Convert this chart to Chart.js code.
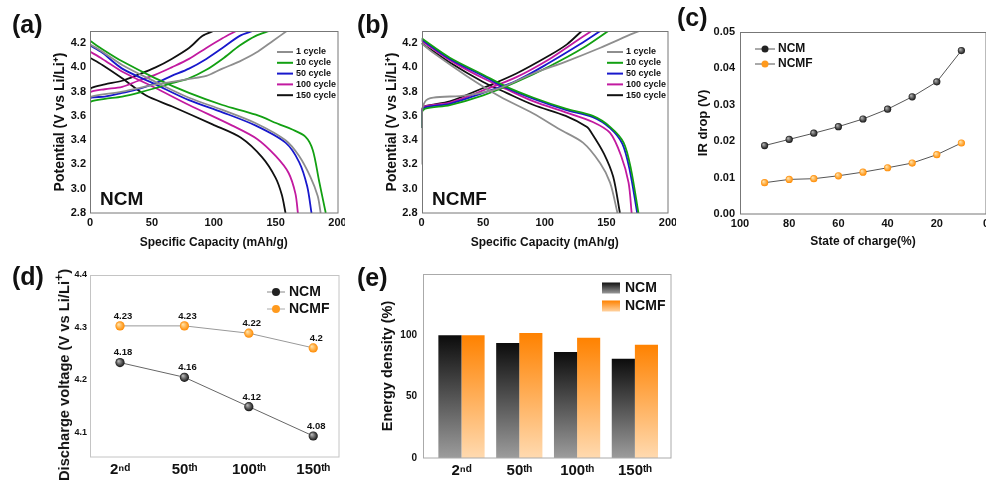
<!DOCTYPE html>
<html>
<head>
<meta charset="utf-8">
<title>NCM vs NCMF</title>
<script src="https://cdn.jsdelivr.net/npm/chart.js@4.4.1/dist/chart.umd.min.js"></script>
<style>
  body { margin: 0; background: #fff; overflow: hidden; }
  #fig { position: relative; width: 986px; height: 480px; overflow: hidden;
         font-family: "Liberation Sans", Arial, sans-serif; color: #111; }
  #fig canvas { position: absolute; }
  .tag { position: absolute; font-size: 25px; font-weight: bold; line-height: 1; }
  .ytitle { position: absolute; font-size: 14.7px; font-weight: bold; white-space: nowrap;
            transform: translate(-50%, -50%) rotate(-90deg); }
</style>
</head>
<body>
<div id="fig">
  <canvas id="chartA" width="345" height="255" style="left:0;top:0"></canvas>
  <canvas id="chartB" width="340" height="255" style="left:336px;top:0"></canvas>
  <canvas id="chartC" width="310" height="255" style="left:680px;top:0"></canvas>
  <canvas id="chartD" width="345" height="230" style="left:0;top:250px"></canvas>
  <canvas id="chartE" width="326" height="230" style="left:360px;top:250px"></canvas>
  <div class="tag" style="left:12px;top:12px">(a)</div>
  <div class="tag" style="left:357px;top:12px">(b)</div>
  <div class="tag" style="left:677px;top:5px">(c)</div>
  <div class="tag" style="left:12px;top:264px">(d)</div>
  <div class="tag" style="left:357px;top:265px">(e)</div>
  <div class="ytitle" style="left:62px;top:375px">Discharge voltage (V vs Li/Li<sup>+</sup>)</div>
</div>
<script>
// ---------- data ----------
const cycleNames = ["1 cycle", "10 cycle", "50 cycle", "100 cycle", "150 cycle"];
const cycleColors = ["#8e8e8e", "#12a012", "#1818cc", "#c21aa0", "#111111"];

const capacityTicks = [0, 50, 100, 150, 200];
const potentialTicks = [2.8, 3.0, 3.2, 3.4, 3.6, 3.8, 4.0, 4.2];

// (a) NCM - one row per cycle
const ncmChargeCap = [
  [0, 0, 1, 26, 53, 66, 80, 94, 107, 121, 134, 148, 159],
  [0, 0, 1, 12, 26, 39, 53, 66, 80, 94, 107, 121, 134, 145],
  [0, 0, 1, 12, 26, 39, 53, 66, 80, 94, 107, 121, 131.7],
  [0, 0, 1, 12, 26, 39, 53, 66, 80, 94, 107, 118],
  [0, 0, 1, 12, 26, 39, 53, 66, 80, 91, 100]
];
const ncmChargeV = [
  [3.45, 3.74, 3.76, 3.80, 3.86, 3.88, 3.905, 3.93, 3.99, 4.05, 4.12, 4.22, 4.30],
  [3.55, 3.70, 3.72, 3.74, 3.76, 3.79, 3.83, 3.87, 3.91, 3.98, 4.07, 4.18, 4.26, 4.30],
  [3.55, 3.73, 3.75, 3.76, 3.79, 3.82, 3.87, 3.93, 3.99, 4.07, 4.16, 4.26, 4.30],
  [3.55, 3.78, 3.80, 3.82, 3.84, 3.89, 3.94, 4.00, 4.07, 4.16, 4.24, 4.30],
  [3.45, 3.80, 3.83, 3.86, 3.89, 3.94, 4.00, 4.07, 4.16, 4.26, 4.30]
];
const ncmDischargeCap = [
  [0, 10, 26, 53, 80, 107, 134, 158, 169, 178, 184, 186.4],
  [0, 10, 26, 53, 80, 107, 134, 153, 163, 174, 180, 185, 190.5],
  [0, 10, 26, 53, 80, 107, 134, 158, 169, 175.5, 179],
  [0, 10, 27, 53, 80, 115, 135, 150, 160.5, 166, 168],
  [0, 10, 26, 45, 66, 99, 122, 139, 150, 155, 158]
];
const ncmDischargeV = [
  [4.19, 4.13, 4.02, 3.88, 3.75, 3.65, 3.54, 3.40, 3.27, 3.10, 2.94, 2.80],
  [4.22, 4.15, 4.05, 3.91, 3.79, 3.69, 3.61, 3.53, 3.49, 3.43, 3.32, 3.07, 2.80],
  [4.18, 4.12, 3.99, 3.86, 3.73, 3.63, 3.52, 3.38, 3.22, 3.02, 2.80],
  [4.13, 4.07, 3.96, 3.83, 3.69, 3.52, 3.41, 3.27, 3.13, 2.96, 2.80],
  [4.08, 4.02, 3.91, 3.77, 3.68, 3.53, 3.42, 3.26, 3.09, 2.95, 2.80]
];

// (b) NCMF
const ncmfChargeCap = [
  [0, 0, 3, 9.6, 36.6, 63.6, 90.7, 117.7, 144.7, 171.8, 177],
  [0, 0, 3, 23, 50, 77, 104, 131, 151.5],
  [0, 0, 3, 23, 50, 77, 104, 128.5, 145],
  [0, 0, 3, 23, 50, 77, 104, 123, 138],
  [0, 0, 3, 23, 50, 77, 104, 118, 130]
];
const ncmfChargeV = [
  [3.20, 3.60, 3.72, 3.75, 3.77, 3.83, 3.95, 4.05, 4.16, 4.28, 4.30],
  [3.50, 3.62, 3.66, 3.69, 3.77, 3.88, 4.01, 4.16, 4.30],
  [3.50, 3.63, 3.67, 3.70, 3.79, 3.89, 4.04, 4.19, 4.30],
  [3.50, 3.64, 3.68, 3.71, 3.81, 3.92, 4.07, 4.20, 4.30],
  [3.50, 3.65, 3.68, 3.72, 3.83, 3.95, 4.10, 4.19, 4.30]
];
const ncmfDischargeCap = [
  [0, 9.6, 36.6, 63.6, 90.7, 112, 131, 145, 153, 159],
  [0, 23, 50, 69, 91, 117, 139, 153, 164, 170, 176],
  [0, 23, 50, 69, 91, 117, 139, 153, 163, 169, 175],
  [0, 23, 50, 69, 91, 117, 139, 153, 162, 168, 170.5],
  [0, 23, 50, 69, 91, 117, 134, 138, 148, 155.5, 161]
];
const ncmfDischargeV = [
  [4.20, 4.12, 3.93, 3.76, 3.62, 3.49, 3.38, 3.21, 3.05, 2.80],
  [4.24, 4.08, 3.94, 3.84, 3.75, 3.66, 3.60, 3.51, 3.38, 3.16, 2.80],
  [4.23, 4.07, 3.93, 3.83, 3.74, 3.65, 3.59, 3.50, 3.37, 3.15, 2.80],
  [4.22, 4.06, 3.91, 3.82, 3.72, 3.63, 3.55, 3.46, 3.27, 3.05, 2.80],
  [4.20, 4.04, 3.88, 3.79, 3.69, 3.60, 3.51, 3.46, 3.29, 3.10, 2.80]
];

// (c) IR drop
const socLevels = [90, 80, 70, 60, 50, 40, 30, 20, 10];
const socTicks = [100, 80, 60, 40, 20, 0];
const irTicks = [0, 0.01, 0.02, 0.03, 0.04, 0.05];
const ncmIR = [0.0188, 0.0205, 0.0222, 0.0240, 0.0261, 0.0288, 0.0322, 0.0363, 0.0449];
const ncmfIR = [0.0086, 0.0095, 0.0097, 0.0105, 0.0115, 0.0127, 0.0140, 0.0163, 0.0195];

// (d) discharge voltage, (e) energy density
const cycleLabels = ["2ⁿᵈ", "50ᵗʰ", "100ᵗʰ", "150ᵗʰ"];
const cycleIndex = [0, 1, 2, 3];
const voltTicks = [4.1, 4.2, 4.3, 4.4];
const ncmVolt = [4.233, 4.205, 4.149, 4.093];
const ncmfVolt = [4.303, 4.303, 4.289, 4.261];
const ncmVoltText = ["4.18", "4.16", "4.12", "4.08"];
const ncmfVoltText = ["4.23", "4.23", "4.22", "4.2"];
const energyTicks = [0, 50, 100];
const ncmEnergy = [100, 93.8, 86.4, 81];
const ncmfEnergy = [100, 101.9, 98.1, 92.4];

// ---------- helpers ----------
const FONT = '"Liberation Sans", Arial, sans-serif';
const INK = "#111";

function bold(size) { return { family: FONT, size: size, weight: "bold" }; }

// fixed axis box so the plot areas land where the figure has them
function fixBox(size) {
  return function (s) {
    if (s.isHorizontal()) s.height = size; else s.width = size;
    s.paddingLeft = s.paddingRight = s.paddingTop = s.paddingBottom = 0;
  };
}
function useTicks(list) {
  return function (s) { s.ticks = list.map(v => ({ value: v })); };
}

const frame = {
  id: "frame",
  afterDatasetsDraw(chart, args, o) {
    const a = chart.chartArea, ctx = chart.ctx;
    const l = Math.round(a.left) + 0.5, t = Math.round(a.top) + 0.5;
    ctx.save();
    ctx.strokeStyle = o.color || "#666";
    ctx.lineWidth = 1;
    ctx.strokeRect(l, t, Math.round(a.right) - l, Math.round(a.bottom) - t);
    ctx.restore();
  }
};

const key = {
  id: "key",
  afterDraw(chart, args, o) {
    if (o.x === undefined) return;
    const ctx = chart.ctx;
    ctx.save();
    ctx.font = o.font;
    ctx.textBaseline = "middle";
    ctx.textAlign = "left";
    let row = 0;
    chart.data.datasets.forEach(ds => {
      if (ds.noKey) return;
      const y = o.y + row * o.step;
      if (o.kind === "box") {
        const g = ctx.createLinearGradient(0, y - o.boxH / 2, 0, y + o.boxH / 2);
        g.addColorStop(0, ds.keyTop);
        g.addColorStop(1, ds.keyBottom);
        ctx.fillStyle = g;
        ctx.fillRect(o.x, y - o.boxH / 2, o.len, o.boxH);
      } else {
        ctx.strokeStyle = ds.keyLine || ds.borderColor;
        ctx.lineWidth = o.lineW;
        ctx.beginPath();
        ctx.moveTo(o.x, y);
        ctx.lineTo(o.x + o.len, y);
        ctx.stroke();
        if (o.kind === "dot") {
          ctx.fillStyle = ds.keyDot;
          ctx.beginPath();
          ctx.arc(o.x + o.len / 2, y, o.r, 0, Math.PI * 2);
          ctx.fill();
        }
      }
      ctx.fillStyle = INK;
      ctx.fillText(ds.label, o.x + o.len + o.gap, y);
      row++;
    });
    ctx.restore();
  }
};

const notes = {
  id: "notes",
  afterDraw(chart, args, o) {
    if (!o.text) return;
    const ctx = chart.ctx;
    ctx.save();
    ctx.font = o.font;
    ctx.fillStyle = INK;
    ctx.textBaseline = "middle";
    ctx.fillText(o.text, o.x, o.y);
    ctx.restore();
  }
};

const pointText = {
  id: "pointText",
  afterDatasetsDraw(chart, args, o) {
    const ctx = chart.ctx;
    ctx.save();
    ctx.font = o.font;
    ctx.fillStyle = INK;
    ctx.textAlign = "center";
    ctx.textBaseline = "bottom";
    chart.data.datasets.forEach((ds, i) => {
      if (!ds.valueText) return;
      chart.getDatasetMeta(i).data.forEach((pt, k) => {
        ctx.fillText(ds.valueText[k], pt.x + o.dx, pt.y + o.dy);
      });
    });
    ctx.restore();
  }
};

// shaded ball markers
function sphere(light, dark, r) {
  return function (c) {
    const ch = c.chart;
    if (c.type !== "data" || !ch.chartArea) return dark;
    const x = ch.scales.x.getPixelForValue(c.parsed.x);
    const y = ch.scales.y.getPixelForValue(c.parsed.y);
    const g = ch.ctx.createRadialGradient(x - r * 0.35, y - r * 0.35, 0.3, x, y, r);
    g.addColorStop(0, light);
    g.addColorStop(1, dark);
    return g;
  };
}

function curve(label, color, xs, ys, hideKey) {
  return {
    label: label,
    data: xs.map((x, k) => ({ x: x, y: ys[k] })),
    borderColor: color,
    borderWidth: 1.8,
    pointRadius: 0,
    tension: 0.3,
    noKey: hideKey
  };
}

function curveSets(chgCap, chgV, disCap, disV) {
  const sets = [];
  cycleNames.forEach((name, i) => {
    sets.push(curve(name, cycleColors[i], chgCap[i], chgV[i], false));
    sets.push(curve(name, cycleColors[i], disCap[i], disV[i], true));
  });
  return sets;
}

const base = {
  responsive: false,
  animation: false,
  events: []
};

function capacityChart(id, sets, yWidth, padRight, yTitlePad, legendX, note, noteX) {
  return new Chart(document.getElementById(id), {
    type: "line",
    data: { datasets: sets },
    options: Object.assign({}, base, {
      layout: { padding: { top: 31, right: padRight, left: 0, bottom: 0 } },
      scales: {
        x: {
          type: "linear", min: 0, max: 200,
          afterBuildTicks: useTicks(capacityTicks),
          afterFit: fixBox(42),
          grid: { display: false, drawTicks: false },
          border: { display: false },
          ticks: { font: bold(11), color: INK, padding: 3, maxRotation: 0 },
          title: { display: true, text: "Specific Capacity (mAh/g)", font: bold(12), color: INK,
                   padding: { top: 0, bottom: 4.8 } }
        },
        y: {
          min: 2.8, max: 4.3,
          afterBuildTicks: useTicks(potentialTicks),
          afterFit: fixBox(yWidth),
          grid: { display: false, drawTicks: false },
          border: { display: false },
          ticks: { font: bold(11), color: INK, padding: 4, callback: v => v.toFixed(1) },
          title: { display: true, text: "Potential (V vs Li/Li⁺)", font: bold(14), color: INK,
                   padding: { top: yTitlePad, bottom: 0 } }
        }
      },
      plugins: {
        legend: { display: false },
        tooltip: { enabled: false },
        frame: { color: "#777" },
        key: { x: legendX, y: 52, step: 10.8, len: 16, gap: 3, lineW: 2, font: "bold 9px " + FONT },
        notes: { text: note, x: noteX, y: 200, font: "bold 19px " + FONT }
      }
    }),
    plugins: [frame, key, notes]
  });
}

// (a) and (b)
capacityChart("chartA", curveSets(ncmChargeCap, ncmChargeV, ncmDischargeCap, ncmDischargeV),
  90, 7.5, 51.6, 277, "NCM", 100);
capacityChart("chartB", curveSets(ncmfChargeCap, ncmfChargeV, ncmfDischargeCap, ncmfDischargeV),
  85.5, 8, 47.6, 271, "NCMF", 96);

// (c) IR drop vs state of charge
new Chart(document.getElementById("chartC"), {
  type: "line",
  data: {
    labels: socLevels,
    datasets: [
      { label: "NCM", data: ncmIR, borderColor: "#555", borderWidth: 1, pointRadius: 3.6,
        pointBorderWidth: 0, pointBackgroundColor: sphere("#b0b0b0", "#111", 3.6),
        keyDot: "#222", keyLine: "#555" },
      { label: "NCMF", data: ncmfIR, borderColor: "#555", borderWidth: 1, pointRadius: 3.6,
        pointBorderWidth: 0, pointBackgroundColor: sphere("#ffe2a8", "#ff8a00", 3.6),
        keyDot: "#ff9a1e", keyLine: "#555" }
    ]
  },
  options: Object.assign({}, base, {
    layout: { padding: { top: 32, right: 2, left: 0, bottom: 0 } },
    scales: {
      x: {
        type: "linear", min: 0, max: 100, reverse: true, offset: false,
        afterBuildTicks: useTicks(socTicks),
        afterFit: fixBox(41),
        grid: { display: false, drawTicks: false },
        border: { display: false },
        ticks: { font: bold(11), color: INK, padding: 3, maxRotation: 0 },
        title: { display: true, text: "State of charge(%)", font: bold(12), color: INK,
                 padding: { top: 0, bottom: 6.1 } }
      },
      y: {
        min: 0, max: 0.05,
        afterBuildTicks: useTicks(irTicks),
        afterFit: fixBox(60),
        grid: { display: false, drawTicks: false },
        border: { display: false },
        ticks: { font: bold(11), color: INK, padding: 5, callback: v => v.toFixed(2) },
        title: { display: true, text: "IR drop (V)", font: bold(13), color: INK,
                 padding: { top: 15.2, bottom: 0 } }
      }
    },
    plugins: {
      legend: { display: false },
      tooltip: { enabled: false },
      frame: { color: "#777" },
      key: { x: 75, y: 49, step: 15, len: 20, gap: 3, lineW: 1, kind: "dot", r: 3.5,
             font: "bold 12px " + FONT }
    }
  }),
  plugins: [frame, key]
});

// (d) discharge voltage per cycle
new Chart(document.getElementById("chartD"), {
  type: "line",
  data: {
    labels: cycleIndex,
    datasets: [
      { label: "NCM", data: ncmVolt, valueText: ncmVoltText, borderColor: "#666", borderWidth: 1,
        pointRadius: 4.6, pointBorderWidth: 0, pointBackgroundColor: sphere("#b8b8b8", "#111", 4.6),
        keyDot: "#222", keyLine: "#888" },
      { label: "NCMF", data: ncmfVolt, valueText: ncmfVoltText, borderColor: "#999", borderWidth: 1,
        pointRadius: 4.6, pointBorderWidth: 0, pointBackgroundColor: sphere("#ffe2a8", "#ff8a00", 4.6),
        keyDot: "#ff9a1e", keyLine: "#aaa" }
    ]
  },
  options: Object.assign({}, base, {
    layout: { padding: { top: 25, right: 6, left: 0, bottom: 0 } },
    scales: {
      x: {
        type: "linear", min: -0.466, max: 3.40, offset: false,
        afterBuildTicks: useTicks(cycleIndex),
        afterFit: fixBox(23),
        grid: { display: false, drawTicks: false },
        border: { display: false },
        ticks: { font: bold(15), color: INK, padding: 4, maxRotation: 0, callback: v => cycleLabels[v] }
      },
      y: {
        min: 4.053, max: 4.4,
        afterBuildTicks: useTicks(voltTicks),
        afterFit: fixBox(90),
        grid: { display: false, drawTicks: false },
        border: { display: false },
        ticks: { font: bold(9), color: INK, padding: 3, callback: v => v.toFixed(1) }
      }
    },
    plugins: {
      legend: { display: false },
      tooltip: { enabled: false },
      frame: { color: "#c4c4c4" },
      key: { x: 267, y: 42, step: 17, len: 18, gap: 4, lineW: 1, kind: "dot", r: 4,
             font: "bold 14px " + FONT },
      pointText: { font: "bold 9.5px " + FONT, dx: 3, dy: -5 }
    }
  }),
  plugins: [frame, key, pointText]
});

// (e) energy density bars
function barShade(top, bottom) {
  return function (c) {
    const ch = c.chart;
    if (c.type !== "data" || !ch.chartArea) return top;
    const y = ch.scales.y;
    const g = ch.ctx.createLinearGradient(0, y.getPixelForValue(c.raw), 0, y.getPixelForValue(0));
    g.addColorStop(0, top);
    g.addColorStop(1, bottom);
    return g;
  };
}

new Chart(document.getElementById("chartE"), {
  type: "bar",
  data: {
    labels: cycleIndex,
    datasets: [
      { label: "NCM", data: ncmEnergy, backgroundColor: barShade("#0c0c0c", "#9c9c9c"),
        barPercentage: 1, categoryPercentage: 0.8, keyTop: "#111", keyBottom: "#9a9a9a" },
      { label: "NCMF", data: ncmfEnergy, backgroundColor: barShade("#ff8200", "#ffdab0"),
        barPercentage: 1, categoryPercentage: 0.8, keyTop: "#ff8200", keyBottom: "#ffd2a0" }
    ]
  },
  options: Object.assign({}, base, {
    layout: { padding: { top: 24, right: 15, left: 0, bottom: 0 } },
    scales: {
      x: {
        type: "linear", min: -0.666, max: 3.625, offset: false,
        afterBuildTicks: useTicks(cycleIndex),
        afterFit: fixBox(22),
        grid: { display: false, drawTicks: false },
        border: { display: false },
        ticks: { font: bold(15), color: INK, padding: 4, maxRotation: 0, callback: v => cycleLabels[v] }
      },
      y: {
        min: 0, max: 150,
        afterBuildTicks: useTicks(energyTicks),
        afterFit: fixBox(63),
        grid: { display: false, drawTicks: false },
        border: { display: false },
        ticks: { font: bold(10), color: INK, padding: 6 },
        title: { display: true, text: "Energy density (%)", font: bold(14.5), color: INK,
                 padding: { top: 19.3, bottom: 0 } }
      }
    },
    plugins: {
      legend: { display: false },
      tooltip: { enabled: false },
      frame: { color: "#aaa" },
      key: { x: 242, y: 38, step: 18, len: 18, gap: 5, kind: "box", boxH: 11,
             font: "bold 14px " + FONT }
    }
  }),
  plugins: [frame, key]
});
</script>
</body>
</html>
